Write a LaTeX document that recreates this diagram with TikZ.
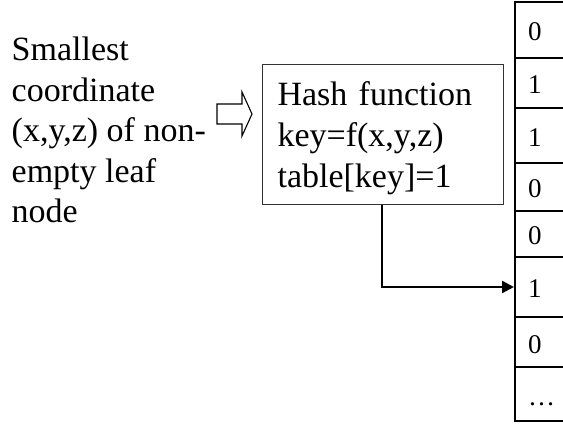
\documentclass[tikz,border=0pt]{standalone}
\usepackage{fontspec}
\setmainfont{Liberation Serif}
\usetikzlibrary{arrows.meta}

\tikzset{
  bigtext/.style={font=\fontsize{34}{40.5}\selectfont, inner sep=0pt, align=left},
  hashbox/.style={draw=black!80, line width=1.1pt, anchor=north west,
    minimum width=241pt, minimum height=140pt, inner xsep=15pt,
    text width=211pt, align=left, font=\fontsize{34}{41}\selectfont},
  cell/.style={draw, line width=2pt, anchor=north west,
    minimum width=70pt, inner xsep=13pt, inner ysep=0pt,
    text width=44pt, align=left, text height=22pt, text depth=0pt,
    font=\fontsize{27}{30}\selectfont},
  link/.style={line width=2.4pt, -{Triangle[length=12pt,width=12pt]}},
  hollowarrow/.style={draw=black, line width=1.1pt, fill=white, line join=miter}
}

\begin{document}
\begin{tikzpicture}[x=1pt,y=-1pt]
  \useasboundingbox (0,0) rectangle (563,425);
  \clip (0,0) rectangle (563,425);

  % input description
  \node[bigtext, anchor=north west] (input) at (11.5,37)
    {Smallest\\coordinate\\(x,y,z) of non-\\empty leaf\\node};

  % hollow block arrow towards the hash function
  \draw[hollowarrow] (217,104) -- (242,104) -- (242,92) -- (252,114)
    -- (242,136) -- (242,124) -- (217,124) -- cycle;

  % hash function box
  \node[hashbox] (hash) at (262,64)
    {\rule{0pt}{31pt}Hash function\\key=f(x,y,z)\\table[key]=1};

  % lookup table: value / top edge / bottom edge of each slot
  \foreach \v/\t/\b [count=\i from 0] in
      {0/1/57, 1/57/107, 1/107/162, 0/162/210,
       0/210/256, 1/256/316, 0/316/366, \dots/366/420}
    \node[cell, minimum height={\b-\t}] (r\i) at (514,\t) {\v};

  % connector from the hash box to the marked slot
  \draw[link] ([xshift=120pt]hash.south west) |- (r5.west);
\end{tikzpicture}
\end{document}
